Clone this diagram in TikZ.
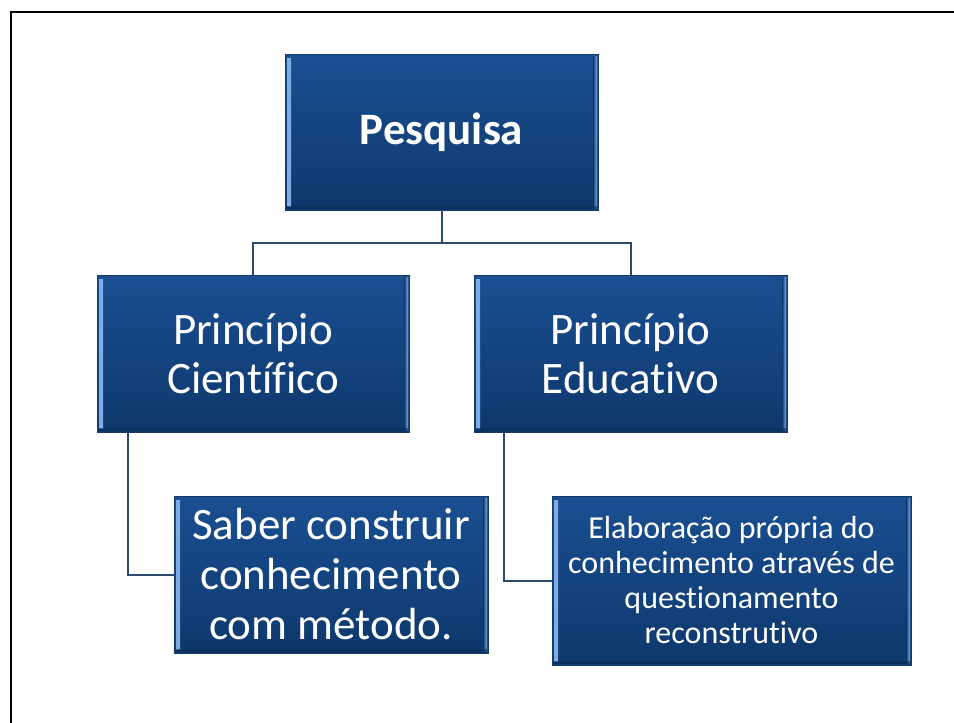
\documentclass[tikz,border=0pt]{standalone}
\usepackage{fontspec}
\setmainfont{Carlito}[Ligatures={NoCommon}]
\definecolor{boxtop}{HTML}{1A4F92}
\definecolor{boxbot}{HTML}{0E386C}
\definecolor{bevl}{HTML}{7FAEE6}
\definecolor{boxedge}{HTML}{173A66}
\definecolor{conn}{HTML}{2B4A72}
\tikzset{
  box/.style={draw=boxedge, line width=0.6pt, top color=boxtop, bottom color=boxbot,
    text=white, align=center, inner sep=0pt,
    path picture={
      \fill[left color=bevl, right color=boxtop]
        ([shift={(2pt,-4pt)}]path picture bounding box.north west) rectangle
        ([shift={(6pt,4pt)}]path picture bounding box.south west);
      \fill[left color=boxbot, right color=bevl]
        ([shift={(-5pt,-2pt)}]path picture bounding box.north east) rectangle
        ([shift={(-1pt,2pt)}]path picture bounding box.south east);
      \fill[boxbot!80!black, opacity=0.6]
        ([shift={(1pt,1pt)}]path picture bounding box.south west) rectangle
        ([shift={(-1pt,4pt)}]path picture bounding box.south east);
    }},
  conn/.style={draw=conn, line width=2pt},
  frame/.style={draw=black, line width=2.6pt}
}
\begin{document}
\begin{tikzpicture}[x=1pt,y=-1pt]
\useasboundingbox (0,0) rectangle (954,723);
\fill[white] (0,0) rectangle (954,723);
\coordinate (fa) at (11,723);
\coordinate (fb) at (11,12);
\coordinate (fc) at (954,12);
\draw[frame] (fa) -- (fb) -- (fc);

\node[box, minimum width=313pt, minimum height=156pt, font=\fontsize{45}{54}\selectfont\bfseries] (P) at (441.5,132) {Pesquisa};
\node[box, minimum width=312pt, minimum height=157pt, font=\fontsize{45}{49}\selectfont] (PC) at (253,353.5) {Princípio\\Científico};
\node[box, minimum width=313pt, minimum height=157pt, font=\fontsize{45}{49}\selectfont] (PE) at (630.5,353.5) {Princípio\\Educativo};
\node[box, minimum width=314pt, minimum height=157pt, font=\fontsize{45}{50}\selectfont] (S) at (331,574.5) {Saber construir\\conhecimento\\com método.};
\node[box, minimum width=359pt, minimum height=169pt, font=\fontsize{32}{35}\selectfont] (E) at (731.5,580.5) {Elaboração própria do\\conhecimento através de\\questionamento\\reconstrutivo};

\coordinate (J) at (441.5,243);
\draw[conn] (P.south) -- (J) -| (PC.north);
\draw[conn] (J) -| (PE.north);
\coordinate (L1) at (128,432);
\coordinate (R1) at (504,432);
\draw[conn] (L1) |- (S.west);
\draw[conn] (R1) |- (E.west);
\end{tikzpicture}
\end{document}
